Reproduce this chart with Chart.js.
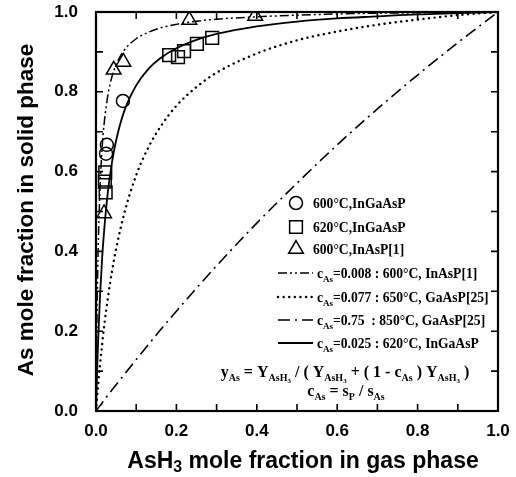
<!DOCTYPE html>
<html><head><meta charset="utf-8">
<script src="https://cdn.jsdelivr.net/npm/chart.js@4/dist/chart.umd.min.js"></script>
<style>html,body{margin:0;padding:0;background:#fff;}#wrap{width:516px;height:477px;position:relative;}</style>
</head><body><div id="wrap"><canvas id="c" width="516" height="477"></canvas></div>
<script>
// ---- data ----
const curveX   = [0, 0.002, 0.005, 0.01, 0.015, 0.02, 0.03, 0.04, 0.05, 0.07, 0.1, 0.13, 0.16, 0.2, 0.25, 0.3, 0.4, 0.5, 0.6, 0.7, 0.8, 0.9, 1.0];
const curve0008 = [0, 0.200, 0.386, 0.558, 0.656, 0.718, 0.794, 0.839, 0.868, 0.904, 0.933, 0.949, 0.960, 0.969, 0.977, 0.982, 0.988, 0.992, 0.995, 0.997, 0.998, 0.999, 1.0];
const curve0077 = [0, 0.025, 0.061, 0.116, 0.165, 0.210, 0.287, 0.351, 0.406, 0.494, 0.591, 0.660, 0.712, 0.765, 0.812, 0.848, 0.896, 0.929, 0.951, 0.968, 0.981, 0.992, 1.0];
const curve075  = [0, 0.003, 0.007, 0.013, 0.020, 0.027, 0.040, 0.053, 0.066, 0.091, 0.129, 0.166, 0.203, 0.250, 0.308, 0.364, 0.471, 0.571, 0.667, 0.757, 0.842, 0.923, 1.0];
const curve0025 = [0, 0.074, 0.167, 0.288, 0.379, 0.449, 0.553, 0.625, 0.678, 0.751, 0.816, 0.857, 0.884, 0.909, 0.930, 0.945, 0.964, 0.976, 0.984, 0.989, 0.994, 0.997, 1.0];

const circleX = [0.027, 0.025, 0.067];
const circleY = [0.667, 0.645, 0.777];
const squareX = [0.023, 0.022, 0.024, 0.182, 0.204, 0.219, 0.251, 0.289];
const squareY = [0.598, 0.575, 0.548, 0.892, 0.887, 0.902, 0.920, 0.935];
const triX = [0.020, 0.044, 0.068, 0.232, 0.396];
const triY = [0.495, 0.855, 0.875, 0.980, 0.990];

const tickValues = [0, 0.2, 0.4, 0.6, 0.8, 1.0];
const tickLabels = ['0.0', '0.2', '0.4', '0.6', '0.8', '1.0'];
const minorTicks = [0.1, 0.2, 0.3, 0.4, 0.5, 0.6, 0.7, 0.8, 0.9];

const xTitle = ['AsH', '3', ' mole fraction in gas phase'];
const yTitle = 'As mole fraction in solid phase';
const markerLabels = ['600°C,InGaAsP', '620°C,InGaAsP', '600°C,InAsP[1]'];
const lineLabels = ['=0.008 : 600°C, InAsP[1]', '=0.077 : 650°C, GaAsP[25]', '=0.75  : 850°C, GaAsP[25]', '=0.025 : 620°C, InGaAsP'];

const zip = (xs, ys) => xs.map((x, i) => ({x, y: ys[i]}));

const lineStyles = [
  {dash: [9, 3, 2, 3, 2, 3], width: 1.5, cap: 'butt'},
  {dash: [0.1, 5.5], width: 2.4, cap: 'round'},
  {dash: [12, 5, 2, 5], width: 1.6, cap: 'butt'},
  {dash: [], width: 1.8, cap: 'butt'}
];
const curveSets = [curve0008, curve0077, curve075, curve0025];

const datasets = curveSets.map((ys, i) => ({
  type: 'line', data: zip(curveX, ys), showLine: true, borderColor: '#000',
  borderWidth: lineStyles[i].width, borderDash: lineStyles[i].dash, borderCapStyle: lineStyles[i].cap,
  pointRadius: 0, cubicInterpolationMode: 'monotone', fill: false
}));
const markerStyles = [
  {style: 'circle', r: 6.5},
  {style: 'rect', r: 9},
  {style: 'triangle', r: 8.5}
];
[[circleX, circleY], [squareX, squareY], [triX, triY]].forEach(([xs, ys], i) => {
  datasets.push({type: 'scatter', data: zip(xs, ys), showLine: false,
    pointStyle: markerStyles[i].style, pointRadius: markerStyles[i].r,
    pointBorderColor: '#000', pointBackgroundColor: 'rgba(0,0,0,0)', pointBorderWidth: 1.5});
});

const SERIF = '"Liberation Serif", "Times New Roman", serif';
const SANS = '"Liberation Sans", Arial, sans-serif';

function drawRich(ctx, parts, x, y, align) {
  let w = 0;
  parts.forEach(p => { ctx.font = p.f; w += ctx.measureText(p.t).width; });
  let cx = align === 'center' ? x - w / 2 : x;
  ctx.textAlign = 'left';
  ctx.textBaseline = 'alphabetic';
  parts.forEach(p => { ctx.font = p.f; ctx.fillText(p.t, cx, y + (p.dy || 0)); cx += ctx.measureText(p.t).width; });
}

const decor = {
  id: 'decor',
  afterDatasetsDraw(chart) {
    const ctx = chart.ctx, a = chart.chartArea;
    const xs = chart.scales.x, ys = chart.scales.y;
    ctx.save();
    ctx.strokeStyle = '#000';
    ctx.fillStyle = '#000';
    // frame
    ctx.lineWidth = 2.2;
    ctx.setLineDash([]);
    ctx.strokeRect(a.left, a.top, a.right - a.left, a.bottom - a.top);
    // inward ticks
    ctx.lineWidth = 1.6;
    const L = 7;
    minorTicks.forEach(v => {
      const px = xs.getPixelForValue(v), py = ys.getPixelForValue(v);
      ctx.beginPath();
      ctx.moveTo(px, a.bottom); ctx.lineTo(px, a.bottom - L);
      ctx.moveTo(px, a.top); ctx.lineTo(px, a.top + L);
      ctx.moveTo(a.left, py); ctx.lineTo(a.left + L, py);
      ctx.moveTo(a.right, py); ctx.lineTo(a.right - L, py);
      ctx.stroke();
    });
    // axis titles
    const tf = 'bold 23px ' + SANS;
    drawRich(ctx, [{t: xTitle[0], f: tf}, {t: xTitle[1], f: 'bold 16px ' + SANS, dy: 4}, {t: xTitle[2], f: tf}], 303, 468, 'center');
    ctx.save();
    ctx.translate(33, 210);
    ctx.rotate(-Math.PI / 2);
    ctx.font = 'bold 22.5px ' + SANS; ctx.textAlign = 'center'; ctx.textBaseline = 'alphabetic';
    ctx.fillText(yTitle, 0, 0);
    ctx.restore();
    // legend: markers
    const lf = 'bold 13.6px ' + SERIF, sf = 'bold 9px ' + SERIF;
    const mRows = [203, 227, 249];
    markerStyles.forEach((m, i) => {
      ctx.lineWidth = 1.5;
      ctx.strokeStyle = '#000';
      ctx.fillStyle = 'rgba(0,0,0,0)';
      Chart.helpers.drawPoint(ctx, {pointStyle: m.style, radius: m.r, borderWidth: 1.5}, 296, mRows[i]);
      ctx.fillStyle = '#000';
      drawRich(ctx, [{t: markerLabels[i], f: lf}], 313, mRows[i] + 5, 'left');
    });
    // legend: lines
    const lRows = [273, 297, 320, 343];
    lineStyles.forEach((s, i) => {
      ctx.beginPath();
      ctx.lineWidth = s.width; ctx.setLineDash(s.dash); ctx.lineCap = s.cap;
      ctx.moveTo(278, lRows[i]); ctx.lineTo(313, lRows[i]); ctx.stroke();
      ctx.setLineDash([]); ctx.lineCap = 'butt';
      drawRich(ctx, [{t: 'c', f: lf}, {t: 'As', f: sf, dy: 4}, {t: lineLabels[i], f: lf}], 317, lRows[i] + 5, 'left');
    });
    // formula
    const ff = 'bold 16px ' + SERIF, fs = 'bold 10px ' + SERIF, fss = 'bold 7px ' + SERIF;
    drawRich(ctx, [
      {t: 'y', f: ff}, {t: 'As', f: fs, dy: 4}, {t: ' = Y', f: ff}, {t: 'AsH', f: fs, dy: 4}, {t: '3', f: fss, dy: 6},
      {t: ' / ( Y', f: ff}, {t: 'AsH', f: fs, dy: 4}, {t: '3', f: fss, dy: 6},
      {t: ' + ( 1 - c', f: ff}, {t: 'As', f: fs, dy: 4}, {t: ' ) Y', f: ff}, {t: 'AsH', f: fs, dy: 4}, {t: '3', f: fss, dy: 6}, {t: ' )', f: ff}
    ], 345, 377, 'center');
    drawRich(ctx, [
      {t: 'c', f: ff}, {t: 'As', f: fs, dy: 4}, {t: ' = s', f: ff}, {t: 'P', f: fs, dy: 4}, {t: ' / s', f: ff}, {t: 'As', f: fs, dy: 4}
    ], 346, 396, 'center');
    ctx.restore();
  }
};

function zeroPad(s) { s.paddingTop = 0; s.paddingBottom = 0; s.paddingLeft = 0; s.paddingRight = 0; }

new Chart(document.getElementById('c'), {
  type: 'scatter',
  data: {datasets},
  options: {
    responsive: false, animation: false, devicePixelRatio: 1,
    layout: {padding: {left: 0, right: 18, top: 12, bottom: 0}},
    plugins: {legend: {display: false}, tooltip: {enabled: false}},
    scales: {
      x: {
        type: 'linear', min: 0, max: 1,
        afterFit(s) { s.height = 66; zeroPad(s); },
        afterBuildTicks(s) { s.ticks = tickValues.map(v => ({value: v})); },
        ticks: {callback: (v) => tickLabels[tickValues.findIndex(t => Math.abs(t - v) < 1e-9)], color: '#000',
          font: {family: SANS, size: 17, weight: 'bold'}, padding: 10, maxRotation: 0},
        grid: {display: false, drawTicks: false},
        border: {display: false}
      },
      y: {
        type: 'linear', min: 0, max: 1,
        afterFit(s) { s.width = 96; zeroPad(s); },
        afterBuildTicks(s) { s.ticks = tickValues.map(v => ({value: v})); },
        ticks: {callback: (v) => tickLabels[tickValues.findIndex(t => Math.abs(t - v) < 1e-9)], color: '#000',
          font: {family: SANS, size: 17, weight: 'bold'}, padding: 18},
        grid: {display: false, drawTicks: false},
        border: {display: false}
      }
    }
  },
  plugins: [decor]
});
</script></body></html>
